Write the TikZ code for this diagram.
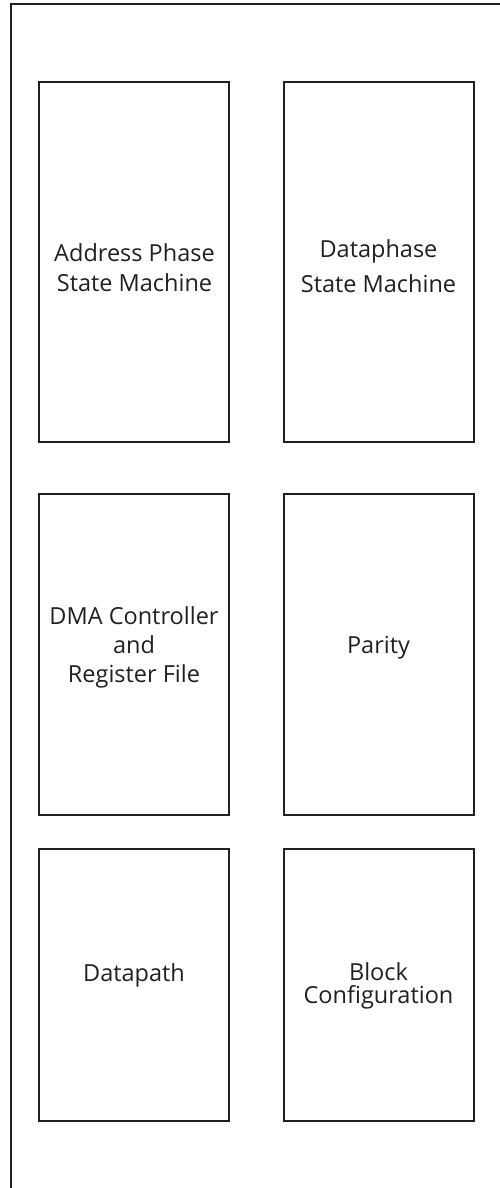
\documentclass[tikz,border=0pt]{standalone}
\usepackage{fontspec}
\setmainfont{Open Sans}
\definecolor{ink}{HTML}{231F20}
\begin{document}
\begin{tikzpicture}[x=1pt,y=-1pt,
  blk/.style={draw=ink, line width=2pt, minimum width=190pt, inner sep=0pt},
  txt/.style={anchor=base, inner sep=0pt, text=ink, font=\fontsize{23.5}{28}\selectfont},
  frame/.style={draw=ink, line width=2.2pt}]
\useasboundingbox (0,0) rectangle (500,1188);
\clip (0,0) rectangle (500,1188);
\draw[frame] (10.7,1200) -- (10.7,4) -- (510,4);
% row 1
\node[blk, minimum height=360pt] (aps) at (134.3,262) {};
\node[blk, minimum height=360pt] (dps) at (379.1,262) {};
% row 2
\node[blk, minimum height=321pt] (dma) at (134.3,654.7) {};
\node[blk, minimum height=321pt] (par) at (379.1,654.7) {};
% row 3
\node[blk, minimum height=271.7pt] (dp) at (134.3,985.3) {};
\node[blk, minimum height=271.7pt] (bc) at (379.1,985.3) {};
% texts
\node[txt] (aps1) at (134.5,261.7) {Address Phase};
\node[txt] (aps2) at (134.5,291.5) {State Machine};
\node[txt] (dps1) at (378.5,257.8) {Dataphase};
\node[txt] (dps2) at (378.5,292.5) {State Machine};
\node[txt] (dma1) at (134.0,624.3) {DMA Controller};
\node[txt] (dma2) at (134.0,653.3) {and};
\node[txt] (dma3) at (134.0,682.7) {Register File};
\node[txt] (par1) at (378.5,653.3) {Parity};
\node[txt] (dp1)  at (134.0,981.7) {Datapath};
\node[txt] (bc1)  at (378.5,980.7) {Block};
\node[txt] (bc2)  at (378.5,1003.3) {Configuration};
\end{tikzpicture}
\end{document}
